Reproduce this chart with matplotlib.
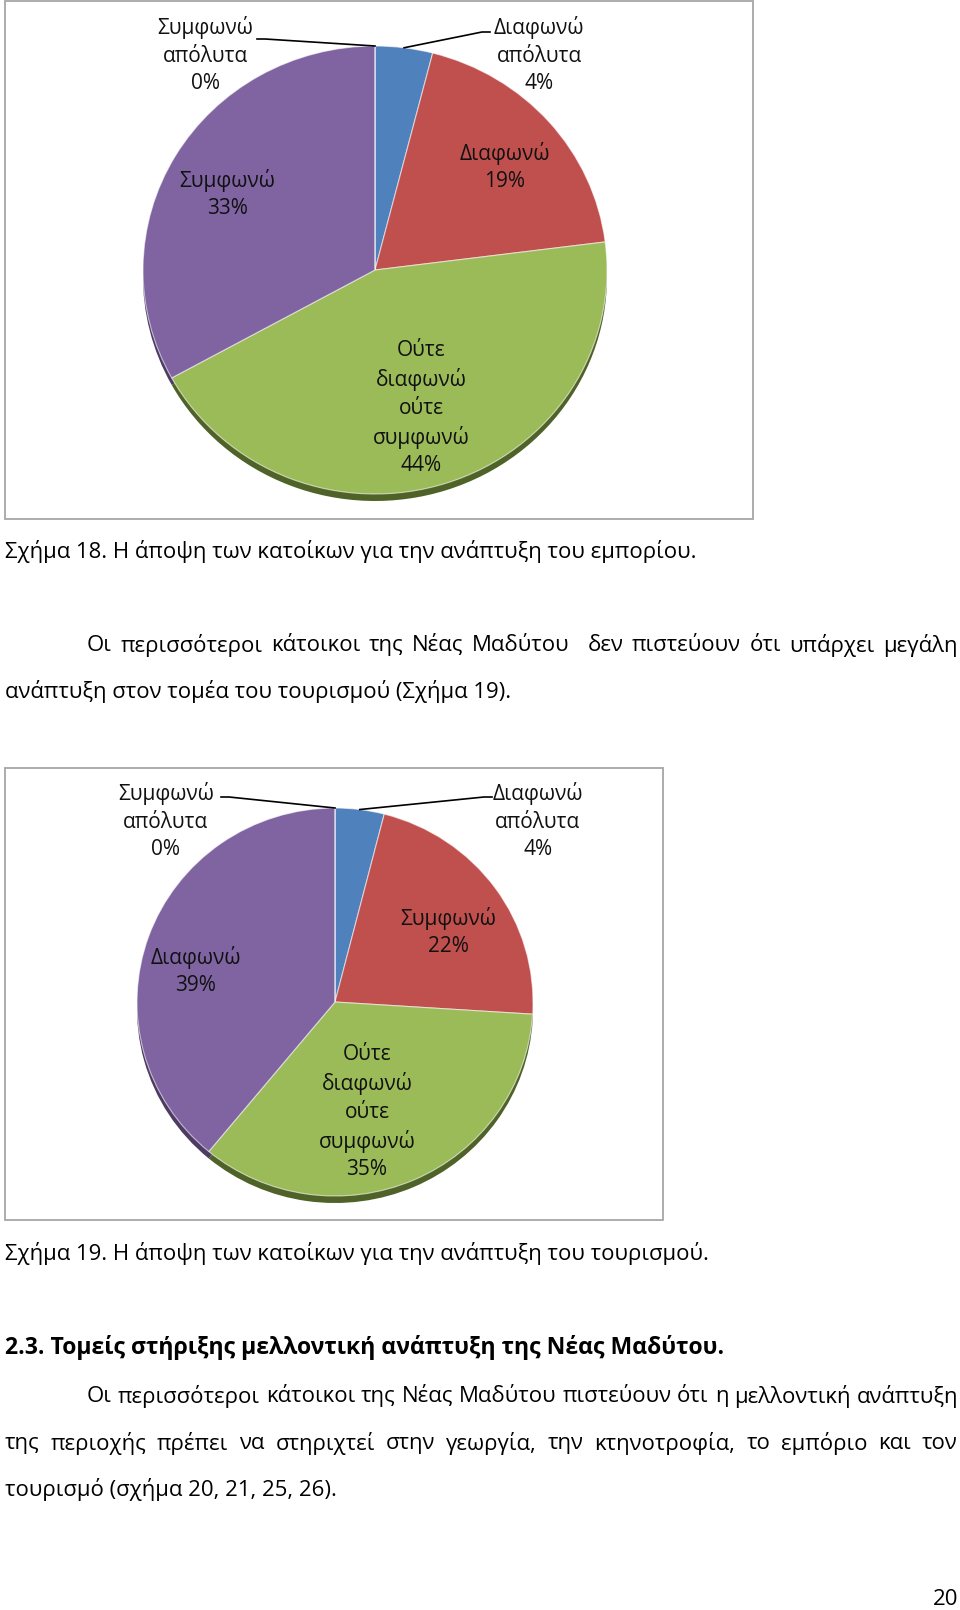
import numpy as np
import matplotlib.pyplot as plt
from matplotlib.patches import Rectangle

plt.rcParams['font.family'] = ['Open Sans', 'DejaVu Sans']

# --------------------------------------------------------------------------- #
# Data
# --------------------------------------------------------------------------- #
# slices clockwise from 12 o'clock
fig18_labels = ['Διαφωνώ απόλυτα', 'Διαφωνώ', 'Ούτε διαφωνώ ούτε συμφωνώ', 'Συμφωνώ', 'Συμφωνώ απόλυτα']
fig18_values = [4, 19, 44, 33, 0]

fig19_labels = ['Διαφωνώ απόλυτα', 'Συμφωνώ', 'Ούτε διαφωνώ ούτε συμφωνώ', 'Διαφωνώ', 'Συμφωνώ απόλυτα']
fig19_values = [4, 22, 35, 39, 0]

colors = ['#4F81BD', '#C0504D', '#9BBB59', '#8064A2', '#4BACC6']
rim_colors = ['#2c4d75', '#772c2a', '#4f6228', '#4d3b62', '#276a7c']

caption18 = 'Σχήμα 18. Η άποψη των κατοίκων για την ανάπτυξη του εμπορίου.'
caption19 = 'Σχήμα 19. Η άποψη των κατοίκων για την ανάπτυξη του τουρισμού.'
para1 = ['Οι περισσότεροι κάτοικοι της Νέας Μαδύτου  δεν πιστεύουν ότι υπάρχει μεγάλη',
         'ανάπτυξη στον τομέα του τουρισμού (Σχήμα 19).']
heading = '2.3. Τομείς στήριξης μελλοντική ανάπτυξη της Νέας Μαδύτου.'
para2 = ['Οι περισσότεροι κάτοικοι της Νέας Μαδύτου πιστεύουν ότι η μελλοντική ανάπτυξη',
         'της περιοχής πρέπει να στηριχτεί στην γεωργία, την κτηνοτροφία, το εμπόριο και τον',
         'τουρισμό (σχήμα 20, 21, 25, 26).']
page_number = '20'

W, H = 960, 1610
fig = plt.figure(figsize=(W / 100, H / 100), dpi=100)


def draw_pie(values, cx, cy, rx, ry, rim):
    # axes over the whole page, scaled so the unit pie is an ellipse at (cx, cy)
    ax = fig.add_axes([0, 0, 1, 1])
    ax.pie(values, colors=rim_colors, startangle=90, counterclock=False,
           center=(0, -rim / ry), radius=1, wedgeprops=dict(linewidth=0))
    ax.pie(values, colors=colors, startangle=90, counterclock=False,
           center=(0, 0), radius=1,
           wedgeprops=dict(edgecolor=(1, 1, 1, 0.6), linewidth=0.8))
    ax.set_aspect('auto')
    ax.set_xlim(-cx / rx, (W - cx) / rx)
    ax.set_ylim(-(H - cy) / ry, cy / ry)
    ax.axis('off')
    # edge points (page pixels) at the middle of each slice
    frac = np.cumsum([0] + list(values)) / float(sum(values))
    mids = 90 - 360 * (frac[:-1] + frac[1:]) / 2
    return [(cx + rx * np.cos(np.radians(a)), cy - ry * np.sin(np.radians(a))) for a in mids]


edge18 = draw_pie(fig18_values, 375, 270, 232, 224, 7)
edge19 = draw_pie(fig19_values, 335, 1002, 198, 194, 7)

page = fig.add_axes([0, 0, 1, 1])
page.set_xlim(0, W)
page.set_ylim(H, 0)
page.axis('off')
page.patch.set_alpha(0)

# chart frames
page.add_patch(Rectangle((5, 1), 748, 518, fill=False, ec='#a6a6a6', lw=1.3))
page.add_patch(Rectangle((5, 768), 658, 452, fill=False, ec='#a6a6a6', lw=1.3))

# data labels
lab_size = 15
lab18_xy = [(539, 55), (505, 167), (421, 408), (227, 194), (205, 55)]
lab19_xy = [(538, 821), (448, 932), (367, 1112), (196, 971), (166, 821)]
for names, vals, xy in [(fig18_labels, fig18_values, lab18_xy),
                        (fig19_labels, fig19_values, lab19_xy)]:
    for n, v, (x, y) in zip(names, vals, xy):
        page.text(x, y, n.replace(' ', '\n') + '\n{}%'.format(v), ha='center', va='center',
                  fontsize=lab_size, linespacing=1.39, color='#111111')

# leader lines to the two small slices
for edge, left, right in [(edge18, (257, 39), (490, 32)), (edge19, (221, 797), (492, 797))]:
    px, py = edge[-1]
    page.plot([left[0], left[0] + 8, px], [left[1], left[1], py], color='black', lw=1.2)
    px, py = edge[0]
    page.plot([px, right[0] - 8, right[0]], [py, right[1], right[1]], color='black', lw=1.2)

# page text
body = 15.9
renderer = fig.canvas.get_renderer()


def justify(line, x0, x1, y, **kw):
    words = line.split(' ')
    texts = [page.text(0, y, w, va='center', ha='left', fontsize=body, **kw) for w in words]
    widths = [t.get_window_extent(renderer).width for t in texts]
    gap = (x1 - x0 - sum(widths)) / (len(words) - 1)
    x = x0
    for t, w in zip(texts, widths):
        t.set_x(x)
        x += w + gap


page.text(5, 551, caption18, va='center', fontsize=body)
justify(para1[0], 87, 958, 645)
page.text(5, 691, para1[1], va='center', fontsize=body)
page.text(5, 1253, caption19, va='center', fontsize=body)
page.text(5, 1347, heading, va='center', fontsize=16.6, fontweight='bold')
justify(para2[0], 87, 958, 1396)
justify(para2[1], 5, 958, 1443)
page.text(5, 1489, para2[2], va='center', fontsize=body)
page.text(958, 1599, page_number, va='center', ha='right', fontsize=body)

fig.savefig('out.png', dpi=100)
